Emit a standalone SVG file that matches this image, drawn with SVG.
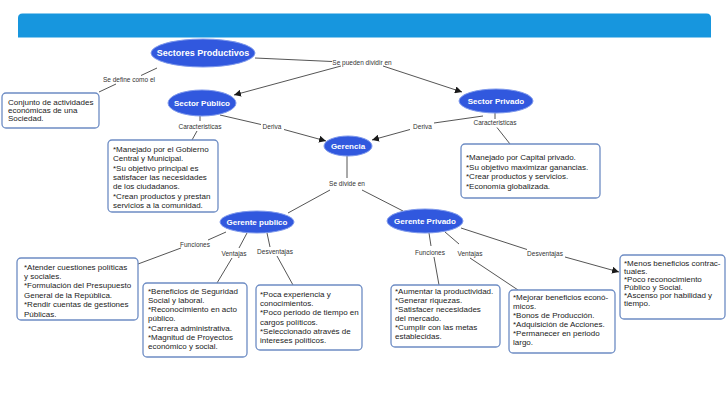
<svg xmlns="http://www.w3.org/2000/svg" width="728" height="410" viewBox="0 0 728 410">
<defs>
<marker id="arr" viewBox="0 0 10 10" refX="10" refY="5" markerWidth="7" markerHeight="7" markerUnits="userSpaceOnUse" orient="auto">
<path d="M0,0 L10,5 L0,10 z" fill="#1a1a1a"/>
</marker>
<style>
.bar{fill:#1796de}
.node ellipse{fill:#3158de;stroke:#7d98ec;stroke-width:1}
.node text{font-family:"Liberation Sans",Arial,sans-serif;font-weight:bold;font-size:8px;fill:#ffffff;text-anchor:middle}
.box rect{fill:#ffffff;stroke:#6d8cc4;stroke-width:1.3}
.box text{font-family:"Liberation Sans",Arial,sans-serif;font-size:8px;fill:#222222}
.lab{font-family:"Liberation Sans",Arial,sans-serif;font-size:6.5px;fill:#333333;text-anchor:middle}
.conn line{stroke:#2a2a2a;stroke-width:0.8}
.conn line.a{marker-end:url(#arr)}
</style>
</defs>
<rect width="728" height="410" fill="#ffffff"/>
<path class="bar" d="M18,37.5 V18 Q18,13.5 22.5,13.5 H706.5 Q711,13.5 711,18 V37.5 Z"/>

<g id="connectors" class="conn">
<line x1="157" y1="68" x2="141" y2="75.5"/>
<line x1="116" y1="84" x2="99" y2="92"/>
<line x1="255" y1="58" x2="332" y2="61.5"/>
<line class="a" x1="341" y1="66" x2="234" y2="95"/>
<line class="a" x1="383" y1="66" x2="462" y2="92"/>
<line x1="200" y1="116" x2="200" y2="121"/>
<line x1="197" y1="131" x2="192" y2="140"/>
<line x1="220" y1="115" x2="261" y2="124.5"/>
<line class="a" x1="284" y1="129.5" x2="326" y2="141"/>
<line x1="483" y1="116" x2="434" y2="123"/>
<line class="a" x1="410" y1="129.5" x2="372" y2="140"/>
<line x1="495" y1="113" x2="495" y2="119"/>
<line x1="497" y1="127.5" x2="510" y2="144"/>
<line x1="347" y1="156" x2="347" y2="178"/>
<line x1="330" y1="190" x2="288" y2="213"/>
<line x1="362" y1="190" x2="403" y2="211"/>
<line x1="226" y1="232" x2="208" y2="240"/>
<line x1="181" y1="248" x2="138" y2="264"/>
<line x1="247" y1="233" x2="239" y2="248"/>
<line x1="232" y1="258" x2="217" y2="283"/>
<line x1="267" y1="233" x2="270" y2="247"/>
<line x1="277" y1="256" x2="293" y2="285"/>
<line x1="429" y1="233" x2="431" y2="246"/>
<line x1="434" y1="257" x2="439" y2="285"/>
<line x1="445" y1="232" x2="459" y2="244"/>
<line x1="470" y1="258" x2="518" y2="290"/>
<line x1="461" y1="228" x2="527" y2="249.5"/>
<line class="a" x1="565" y1="257" x2="619" y2="272"/>
<text class="lab" x="129" y="81.5">Se define como el</text>
<text class="lab" x="362" y="64.5">Se pueden dividir en</text>
<text class="lab" x="200" y="129">Caracteristicas</text>
<text class="lab" x="272" y="128.5">Deriva</text>
<text class="lab" x="422.5" y="129">Deriva</text>
<text class="lab" x="495" y="125">Caracteristicas</text>
<text class="lab" x="347" y="185.8">Se divide en</text>
<text class="lab" x="195" y="246.5">Funciones</text>
<text class="lab" x="234" y="255.8">Ventajas</text>
<text class="lab" x="275" y="254">Desventajas</text>
<text class="lab" x="430" y="255">Funciones</text>
<text class="lab" x="470" y="255.6">Ventajas</text>
<text class="lab" x="545" y="255.6">Desventajas</text>
</g>

<g id="sectores-productivos" class="node"><ellipse cx="203" cy="53" rx="52" ry="14"/><text x="203" y="56" style="font-size:9px">Sectores Productivos</text></g>
<g id="sector-publico" class="node"><ellipse cx="202" cy="103" rx="34" ry="13"/><text x="202" y="106">Sector Público</text></g>
<g id="sector-privado" class="node"><ellipse cx="496" cy="101" rx="37" ry="12"/><text x="496" y="104">Sector Privado</text></g>
<g id="gerencia" class="node"><ellipse cx="348" cy="146" rx="24" ry="10"/><text x="348" y="149">Gerencia</text></g>
<g id="gerente-publico" class="node"><ellipse cx="257" cy="222" rx="37" ry="11"/><text x="257" y="225">Gerente publico</text></g>
<g id="gerente-privado" class="node"><ellipse cx="425" cy="221" rx="38" ry="12"/><text x="425" y="224">Gerente Privado</text></g>

<g id="conjunto" class="box"><rect x="2" y="93" width="97" height="35" rx="4"/>
<text x="8" y="104.5">Conjunto de actividades</text><text x="8" y="112.8">económicas de una</text><text x="8" y="121.1">Sociedad.</text></g>

<g id="caract-publico" class="box"><rect x="108" y="140" width="110" height="72" rx="4"/>
<text x="113" y="151.8">*Manejado por el Gobierno</text><text x="113" y="161.1">Central y Municipal.</text><text x="113" y="170.5">*Su objetivo principal es</text><text x="113" y="179.8">satisfacer las necesidades</text><text x="113" y="189.1">de los ciudadanos.</text><text x="113" y="198.5">*Crean productos y prestan</text><text x="113" y="207.8">servicios a la comunidad.</text></g>

<g id="caract-privado" class="box"><rect x="461" y="144" width="139" height="54" rx="4"/>
<text x="466" y="160">*Manejado por Capital privado.</text><text x="466" y="169.5">*Su objetivo maximizar  ganancias.</text><text x="466" y="179">*Crear productos y servicios.</text><text x="466" y="188.5">*Economía globalizada.</text></g>

<g id="funciones-publico" class="box"><rect x="17" y="258" width="121" height="62" rx="4"/>
<text x="24" y="269.5">*Atender cuestiones políticas</text><text x="24" y="278.9">y sociales.</text><text x="24" y="288.3">*Formulación del Presupuesto</text><text x="24" y="297.7">General de la República.</text><text x="24" y="307.1">*Rendir cuentas de gestiones</text><text x="24" y="316.5">Públicas.</text></g>

<g id="ventajas-publico" class="box"><rect x="143" y="283" width="104" height="74" rx="4"/>
<text x="148" y="293.5">*Beneficios de Seguridad</text><text x="148" y="302.8">Social y laboral.</text><text x="148" y="312.1">*Reconocimiento en acto</text><text x="148" y="321.4">público.</text><text x="148" y="330.7">*Carrera administrativa.</text><text x="148" y="340">*Magnitud de Proyectos</text><text x="148" y="349.3">económico y social.</text></g>

<g id="desventajas-publico" class="box"><rect x="256" y="285" width="106" height="65" rx="4"/>
<text x="260" y="296.8">*Poca experiencia y</text><text x="260" y="306.1">conocimientos.</text><text x="260" y="315.4">*Poco periodo de tiempo en</text><text x="260" y="324.7">cargos políticos.</text><text x="260" y="334">*Seleccionado através de</text><text x="260" y="343.3">intereses políticos.</text></g>

<g id="funciones-privado" class="box"><rect x="391" y="285" width="109" height="62" rx="4"/>
<text x="395" y="293.5">*Aumentar la productividad.</text><text x="395" y="302.6">*Generar riquezas.</text><text x="395" y="311.7">*Satisfacer necesidades</text><text x="395" y="320.8">del mercado.</text><text x="395" y="329.9">*Cumplir con las metas</text><text x="395" y="339">establecidas.</text></g>

<g id="ventajas-privado" class="box"><rect x="509" y="290" width="106" height="63" rx="4"/>
<text x="513" y="300">*Mejorar beneficios econó-</text><text x="513" y="309">micos.</text><text x="513" y="318">*Bonos de Producción.</text><text x="513" y="327">*Adquisición de Acciones.</text><text x="513" y="336">*Permanecer en periodo</text><text x="513" y="345">largo.</text></g>

<g id="desventajas-privado" class="box"><rect x="620" y="255" width="105" height="64" rx="4"/>
<text x="624" y="266">*Menos beneficios contrac-</text><text x="624" y="274">tuales.</text><text x="624" y="282">*Poco reconocimiento</text><text x="624" y="290">Público y Social.</text><text x="624" y="298">*Ascenso por habilidad y</text><text x="624" y="306">tiempo.</text></g>
</svg>
